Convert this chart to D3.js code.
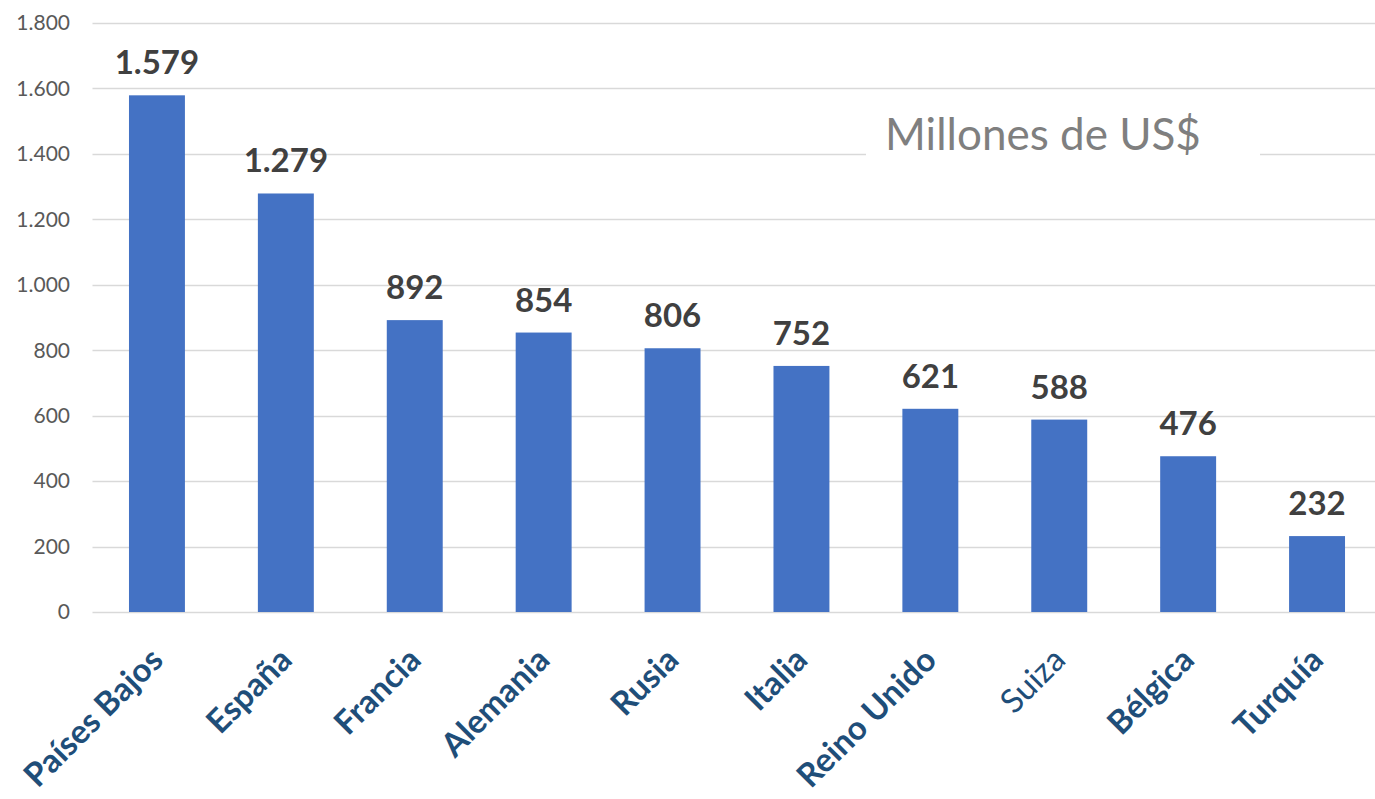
<!DOCTYPE html>
<html>
<head>
<meta charset="utf-8">
<script src="https://cdn.jsdelivr.net/npm/d3@7"></script>
<style>
  html, body { margin: 0; padding: 0; background: #fff; }
  svg { display: block; }
</style>
</head>
<body>
<svg id="chart" width="1375" height="799"></svg>
<script>
const categories = ["Países Bajos", "España", "Francia", "Alemania", "Rusia", "Italia", "Reino Unido", "Suiza", "Bélgica", "Turquía"];
const values = [1579, 1279, 892, 854, 806, 752, 621, 588, 476, 232];
const valueLabels = ["1.579", "1.279", "892", "854", "806", "752", "621", "588", "476", "232"];
const boldCategory = [true, true, true, true, true, true, true, false, true, true];
const yTicks = [0, 200, 400, 600, 800, 1000, 1200, 1400, 1600, 1800];
const yTickLabels = ["0", "200", "400", "600", "800", "1.000", "1.200", "1.400", "1.600", "1.800"];
const title = "Millones de US$";

(function () {
const FONT = "Lato, 'Open Sans', sans-serif";
const svg = d3.select("#chart");
const pLeft = 92.5, pRight = 1381.5, pTop = 23, pBottom = 612;

const x = d3.scaleBand().domain(categories).range([pLeft, pRight]).paddingInner(0.566).paddingOuter(0.283);
const y = d3.scaleLinear().domain([0, 1800]).range([pBottom, pTop]);

// gridlines
svg.append("g").selectAll("line").data(yTicks).join("line")
  .attr("x1", pLeft).attr("x2", 1375)
  .attr("y1", d => Math.round(y(d)) + 0.5).attr("y2", d => Math.round(y(d)) + 0.5)
  .attr("stroke", "#d9d9d9").attr("stroke-width", 1.5);

// y axis labels
svg.append("g").selectAll("text").data(yTicks).join("text")
  .attr("x", 70).attr("y", d => y(d))
  .attr("dy", "0.35em")
  .attr("text-anchor", "end")
  .attr("font-family", FONT).attr("font-size", 21).attr("fill", "#595959")
  .text((d, i) => yTickLabels[i]);

// bars
svg.append("g").selectAll("rect").data(categories).join("rect")
  .attr("x", d => x(d)).attr("width", x.bandwidth())
  .attr("y", (d, i) => y(values[i]))
  .attr("height", (d, i) => y(0) - y(values[i]))
  .attr("fill", "#4472c4");

// value labels
svg.append("g").selectAll("text").data(categories).join("text")
  .attr("x", d => x(d) + x.bandwidth() / 2)
  .attr("y", (d, i) => y(values[i]) - 21)
  .attr("text-anchor", "middle")
  .attr("font-family", FONT).attr("font-weight", "bold").attr("font-size", 33).attr("fill", "#404040")
  .text((d, i) => valueLabels[i]);

// category labels
svg.append("g").selectAll("text").data(categories).join("text")
  .attr("transform", d => `translate(${x(d) + x.bandwidth() / 2 + 8},${662}) rotate(-45)`)
  .attr("text-anchor", "end")
  .attr("font-family", FONT)
  .attr("font-weight", (d, i) => boldCategory[i] ? "bold" : "normal")
  .attr("font-size", 33).attr("fill", "#1f4e79")
  .text(d => d);

// title with white background
const tg = svg.append("g");
tg.append("rect").attr("x", 866).attr("y", 108).attr("width", 394).attr("height", 58).attr("fill", "#fff");
tg.append("text").attr("x", 1043).attr("y", 150)
  .attr("text-anchor", "middle")
  .attr("font-family", FONT).attr("font-size", 44).attr("fill", "#7f7f7f")
  .text(title);
})();
</script>
</body>
</html>
